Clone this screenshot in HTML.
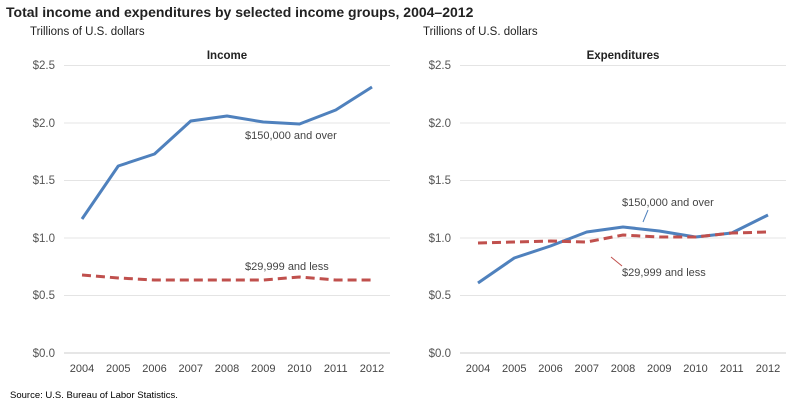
<!DOCTYPE html>
<html><head><style>body{margin:0;background:#fff}svg{display:block}text{font-family:"Liberation Sans",sans-serif}</style></head><body>
<svg width="800" height="407" xmlns="http://www.w3.org/2000/svg">
<rect width="800" height="407" fill="#fff"/>
<text x="6" y="17" font-size="14" font-weight="bold" fill="#222">Total income and expenditures by selected income groups, 2004–2012</text>
<text x="30" y="35" font-size="11.5" fill="#222">Trillions of U.S. dollars</text>
<text x="423" y="35" font-size="11.5" fill="#222">Trillions of U.S. dollars</text>
<text x="227" y="59" font-size="11.5" font-weight="bold" fill="#222" text-anchor="middle">Income</text>
<text x="623" y="59" font-size="11.5" font-weight="bold" fill="#222" text-anchor="middle">Expenditures</text>
<g stroke="#e4e4e4" stroke-width="1">
<line x1="64" x2="390" y1="65.5" y2="65.5"/><line x1="64" x2="390" y1="123" y2="123"/><line x1="64" x2="390" y1="180.5" y2="180.5"/><line x1="64" x2="390" y1="238" y2="238"/><line x1="64" x2="390" y1="295.5" y2="295.5"/>
<line x1="460" x2="786" y1="65.5" y2="65.5"/><line x1="460" x2="786" y1="123" y2="123"/><line x1="460" x2="786" y1="180.5" y2="180.5"/><line x1="460" x2="786" y1="238" y2="238"/><line x1="460" x2="786" y1="295.5" y2="295.5"/>
</g>
<line x1="64" x2="390" y1="353" y2="353" stroke="#ccc"/>
<line x1="460" x2="786" y1="353" y2="353" stroke="#ccc"/>
<g font-size="11.5" fill="#555" text-anchor="end">
<text x="55" y="69">$2.5</text><text x="55" y="127">$2.0</text><text x="55" y="184">$1.5</text><text x="55" y="242">$1.0</text><text x="55" y="299">$0.5</text><text x="55" y="357">$0.0</text>
<text x="451" y="69">$2.5</text><text x="451" y="127">$2.0</text><text x="451" y="184">$1.5</text><text x="451" y="242">$1.0</text><text x="451" y="299">$0.5</text><text x="451" y="357">$0.0</text>
</g>
<g font-size="11" fill="#444" text-anchor="middle">
<text x="82" y="372">2004</text><text x="118.25" y="372">2005</text><text x="154.5" y="372">2006</text><text x="190.75" y="372">2007</text><text x="227" y="372">2008</text><text x="263.25" y="372">2009</text><text x="299.5" y="372">2010</text><text x="335.75" y="372">2011</text><text x="372" y="372">2012</text>
<text x="478" y="372">2004</text><text x="514.25" y="372">2005</text><text x="550.5" y="372">2006</text><text x="586.75" y="372">2007</text><text x="623" y="372">2008</text><text x="659.25" y="372">2009</text><text x="695.5" y="372">2010</text><text x="731.75" y="372">2011</text><text x="768" y="372">2012</text>
</g>
<polyline fill="none" stroke="#4f81bd" stroke-width="3" stroke-linejoin="round" points="82,219 118.25,166 154.5,154 190.75,121 227,116 263.25,122 299.5,124 335.75,110 372,87"/>
<polyline fill="none" stroke="#c0504d" stroke-width="3" stroke-dasharray="9,5" points="82,275 118.25,278 154.5,280 190.75,280 227,280 263.25,280 299.5,277 335.75,280 372,280"/>
<polyline fill="none" stroke="#4f81bd" stroke-width="3" stroke-linejoin="round" points="478,283 514.25,258 550.5,246 586.75,232 623,227 659.25,231 695.5,237 731.75,233 768,215"/>
<polyline fill="none" stroke="#c0504d" stroke-width="3" stroke-dasharray="9,5" points="478,243 514.25,242 550.5,241 586.75,242 623,235 659.25,237 695.5,237 731.75,233 768,232"/>
<g font-size="11" fill="#444">
<text x="245" y="139">$150,000 and over</text>
<text x="245" y="270">$29,999 and less</text>
<text x="622" y="206">$150,000 and over</text>
<text x="622" y="276">$29,999 and less</text>
</g>
<line x1="648" y1="210" x2="643" y2="222" stroke="#4f81bd" stroke-width="1"/>
<line x1="622" y1="266" x2="611" y2="257" stroke="#c0504d" stroke-width="1"/>
<text x="10" y="398" font-size="9.5" fill="#000">Source: U.S. Bureau of Labor Statistics.</text>
</svg>
</body></html>
